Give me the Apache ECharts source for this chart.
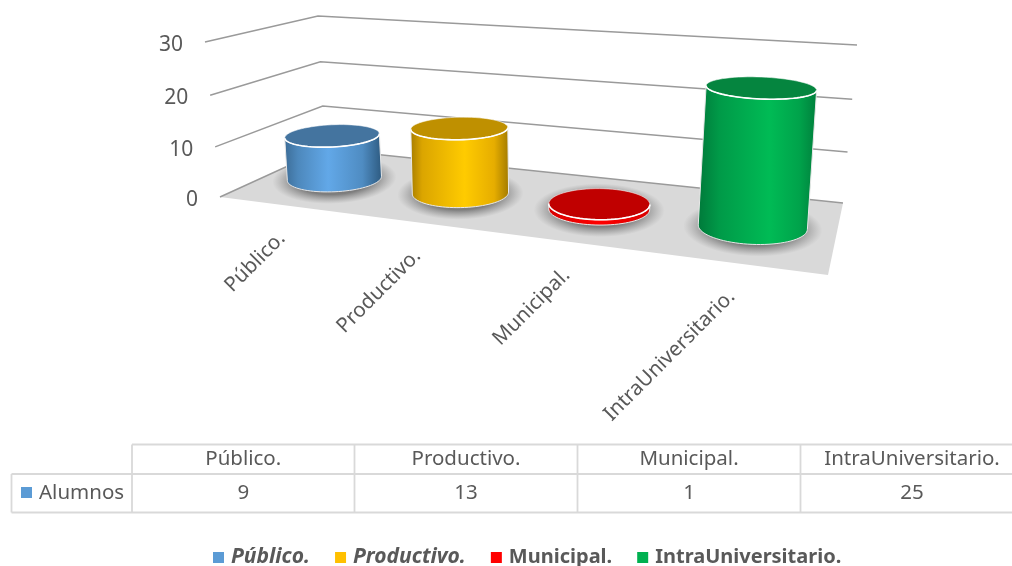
<!DOCTYPE html>
<html><head><meta charset="utf-8">
<style>html,body{margin:0;padding:0;background:#fff}#c{width:1012px;height:566px}</style>
<script src="https://cdn.jsdelivr.net/npm/echarts@6/dist/echarts.min.js"></script>
</head><body><div id="c"></div>
<script>
var categories = ['Público.', 'Productivo.', 'Municipal.', 'IntraUniversitario.'];
var seriesName = 'Alumnos';
var alumnos = [9, 13, 1, 25];
var tickValues = [0, 10, 20, 30];

var FONT = '"Noto Sans", Lato, sans-serif';
var TEXT = '#595959', GRIDC = '#9a9a9a', TABLEC = '#d9d9d9', FLOORC = '#d9d9d9';
var legendColors = ['#5b9bd5', '#ffc000', '#ff0000', '#00b050'];
var topColors = ['#44749f', '#bf9000', '#c00000', '#05853f'];
var bodyStops = [
  [[0,'#3c6c96'],[.14,'#4d88bc'],[.45,'#62a8e8'],[.8,'#4f8cc2'],[1,'#2d5a80']],
  [[0,'#a67c00'],[.12,'#dba500'],[.55,'#ffcb00'],[.85,'#e6ad00'],[1,'#a27a00']],
  [[0,'#d80000'],[.5,'#ff0000'],[1,'#d80000']],
  [[0,'#00793a'],[.18,'#009a48'],[.6,'#00bb55'],[.85,'#00a34b'],[1,'#007f3c']]
];

/* Oblique view of the plot box: axis fractions are warped to screen space. */
var box = {
  fl: [220,197], fr: [828,275], bl: [325,149], br: [843,203],
  flT:[205,42],  frT:[842,86],  blT:[318,16],  brT:[857,45]
};
var DEPTH = 0.53;
function mix(a,b,k){ return [a[0]+(b[0]-a[0])*k, a[1]+(b[1]-a[1])*k]; }
function warpU(f){ return 0.82*f/(1-0.18*f); }
function warpH(t){ return t-0.045*t*(1-t); }
function proj(u,d,t){
  var h=warpH(t);
  var F=mix(mix(box.fl,box.flT,h),mix(box.fr,box.frT,h),u);
  var B=mix(mix(box.bl,box.blT,h),mix(box.br,box.brT,h),u);
  return mix(F,B,d);
}
function fractions(api,params,cat,val){
  var c=api.coord([cat,val]), g=params.coordSys;
  return {f:(c[0]-g.x)/g.width, t:(g.y+g.height-c[1])/g.height};
}
function ellipse(c,rx,ry,tilt,a0,a1,n){
  var pts=[],r=tilt*Math.PI/180,cs=Math.cos(r),sn=Math.sin(r);
  for(var i=0;i<=n;i++){
    var a=a0+(a1-a0)*i/n, x=rx*Math.cos(a), y=ry*Math.sin(a);
    pts.push([c[0]+x*cs-y*sn, c[1]+x*sn+y*cs]);
  }
  return pts;
}

function renderBar(idx){
  return function(params,api){
    var cat=api.value(0), val=api.value(1);
    var p=fractions(api,params,cat,val), u=warpU(p.f), t=p.t;
    var base=proj(u,DEPTH,0), top=proj(u,DEPTH,t);
    var rx=47+10.5*u*u, ryB=12.8+5.2*u, ryT=ryB-7.5*t, tilt=-3.4+6.8*u;
    var rxT=rx+t*0.8;
    var body=ellipse(base,rx,ryB,tilt,Math.PI,0,40).concat(ellipse(top,rxT,ryT,tilt,0,Math.PI,40));
    var stops=bodyStops[idx].map(function(s){return {offset:s[0],color:s[1]};});
    return {type:'group',children:[
      {type:'circle',x:base[0],y:base[1]+1,scaleX:rx+15,scaleY:ryB+11,rotation:-tilt*Math.PI/180,
       shape:{cx:0,cy:0,r:1},silent:true,
       style:{fill:{type:'radial',x:.5,y:.5,r:.5,colorStops:[
         {offset:0,color:'rgba(70,70,70,.72)'},{offset:.62,color:'rgba(70,70,70,.62)'},{offset:.82,color:'rgba(90,90,90,.3)'},{offset:1,color:'rgba(110,110,110,0)'}]}}},
      {type:'polygon',shape:{points:body},
       style:{fill:{type:'linear',x:0,y:0,x2:1,y2:0,colorStops:stops},stroke:'#e8e8e8',lineWidth:1}},
      {type:'polygon',shape:{points:ellipse(top,rxT,ryT,tilt,0,Math.PI*2,72)},
       style:{fill:topColors[idx],stroke:'rgba(255,255,255,.55)',lineWidth:1}},
      {type:'polyline',shape:{points:ellipse(top,rxT,ryT,tilt,0,Math.PI,40)},
       style:{fill:null,stroke:'#ffffff',lineWidth:1.6}}
    ]};
  };
}

function renderFloor(params,api){
  var a=proj(0,0,0),b=proj(1,0,0),c=proj(1,1,0),d=proj(0,1,0);
  return {type:'polygon',shape:{points:[a,b,c,d]},style:{fill:FLOORC}};
}
function renderGrid(params,api){
  var val=api.value(1), t=fractions(api,params,0,val).t;
  var l=proj(0,0,t), m=proj(0,1,t), r=proj(1,1,t);
  return {type:'group',children:[
    {type:'polyline',shape:{points:[l,m,r]},style:{fill:null,stroke:GRIDC,lineWidth:1.5}},
    {type:'text',x:l[0]-22,y:l[1]+3,style:{text:String(val),align:'right',verticalAlign:'middle',
      font:'21px '+FONT,fill:TEXT}}
  ]};
}
function renderCatLabel(params,api){
  var cat=api.value(0), f=fractions(api,params,cat,0).f, u=warpU(f);
  var p=proj(u,0,0);
  return {type:'text',x:p[0]-1-6*u,y:p[1]+30,rotation:Math.PI/4,
    style:{text:categories[cat],align:'right',verticalAlign:'middle',font:'20.5px '+FONT,fill:TEXT}};
}

var barSeries=categories.map(function(name,i){
  return {type:'custom',name:name,coordinateSystem:'cartesian2d',clip:false,z:5,
    itemStyle:{color:legendColors[i]},encode:{x:0,y:1},
    data:[[i,alumnos[i]]],renderItem:renderBar(i)};
});

/* Data table below the plot; the last column runs past the page edge */
var colX=[132,354.5,577.5,800.5,1023.5], rowY=[444.5,474,512.5], leftX=11.5;
var g=[];
function ln(x1,y1,x2,y2){ g.push({type:'line',shape:{x1:x1,y1:y1,x2:x2,y2:y2},style:{stroke:TABLEC,lineWidth:1.8},silent:true}); }
function tx(s,x,y,al){ g.push({type:'text',x:x,y:y,silent:true,style:{text:s,align:al||'center',verticalAlign:'middle',font:'20.5px '+FONT,fill:TEXT}}); }
ln(colX[0],rowY[0],1012,rowY[0]); ln(leftX,rowY[1],1012,rowY[1]); ln(leftX,rowY[2],1012,rowY[2]);
ln(leftX,rowY[1],leftX,rowY[2]);
colX.slice(0,4).forEach(function(x){ ln(x,rowY[0],x,rowY[2]); });
categories.forEach(function(c,i){
  var cx=(colX[i]+colX[i+1])/2;
  tx(c,cx,459.5); tx(String(alumnos[i]),cx,493);
});
g.push({type:'rect',shape:{x:21,y:487,width:11,height:11},style:{fill:legendColors[0]},silent:true});
tx(seriesName,39,493,'left');

var chart=echarts.init(document.getElementById('c'),null,{renderer:'canvas'});
chart.setOption({
  animation:false,backgroundColor:'#fff',tooltip:{show:false},
  grid:{left:220,top:42,width:620,height:155},
  xAxis:{type:'category',data:categories,show:false},
  yAxis:{type:'value',min:0,max:30,interval:10,show:false},
  legend:{
    left:208,top:542,itemWidth:11,itemHeight:11,itemGap:25,icon:'rect',selectedMode:false,
    data:categories,
    formatter:function(n){ return categories.indexOf(n)<2?'{i|'+n+'}':'{b|'+n+'}'; },
    textStyle:{rich:{
      i:{fontFamily:FONT,fontSize:21,fontWeight:'bold',fontStyle:'italic',color:TEXT,padding:[0,0,0,2]},
      b:{fontFamily:FONT,fontSize:20,fontWeight:'bold',color:TEXT,padding:[0,0,0,2]}}}
  },
  graphic:g,
  series:[
    {type:'custom',name:'floor',coordinateSystem:'cartesian2d',clip:false,z:1,data:[[0,0]],encode:{x:0,y:1},renderItem:renderFloor},
    {type:'custom',name:'grid',coordinateSystem:'cartesian2d',clip:false,z:2,encode:{x:0,y:1},
      data:tickValues.map(function(v){return [0,v];}),renderItem:renderGrid},
    {type:'custom',name:'labels',coordinateSystem:'cartesian2d',clip:false,z:2,encode:{x:0,y:1},
      data:categories.map(function(c,i){return [i,0];}),renderItem:renderCatLabel}
  ].concat(barSeries)
});
</script></body></html>
